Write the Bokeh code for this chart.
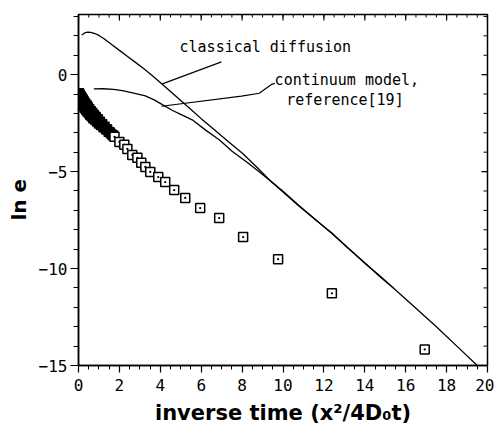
import math
from bokeh.plotting import figure
from bokeh.models import Range1d, FixedTicker, Label, Title
from bokeh.embed import file_html
from bokeh.resources import INLINE

# ---- data ----
classical_x = [0.16, 0.3, 0.45, 0.6, 0.8, 1.0, 1.25, 1.62, 2.0, 2.45, 2.85, 3.23, 3.6, 3.97,
               4.5, 5.0, 5.5, 6.0, 6.5, 7.0, 7.51, 8.0, 8.7, 9.35, 10.0, 10.78, 11.6, 12.39,
               13.2, 14.0, 14.7, 15.41, 16.5, 17.5, 18.5, 19.5]
classical_y = [2.04, 2.15, 2.19, 2.18, 2.12, 2.02, 1.85, 1.55, 1.25, 0.9, 0.58, 0.28, -0.05, -0.38,
               -0.87, -1.34, -1.8, -2.27, -2.72, -3.17, -3.62, -4.04, -4.75, -5.45, -6.05, -6.78,
               -7.5, -8.17, -8.95, -9.73, -10.35, -11.02, -12.05, -13.0, -14.0, -15.0]

continuum_x = [0.75, 1.2, 1.7, 2.15, 2.7, 3.27, 3.7, 4.1, 4.6, 5.0, 5.56, 6.2, 6.88, 7.51, 8.34,
               9.35, 10.0, 10.78, 11.6, 12.39, 13.2, 14.0, 14.7, 15.4]
continuum_y = [-0.74, -0.73, -0.76, -0.83, -0.95, -1.1, -1.3, -1.55, -1.85, -2.05, -2.33, -2.85,
               -3.36, -3.95, -4.6, -5.45, -6.02, -6.75, -7.48, -8.2, -8.97, -9.7, -10.38, -11.0]

dense_x = [0.00, 0.02, 0.03, 0.05, 0.07, 0.09, 0.11, 0.14, 0.16, 0.19, 0.21, 0.24, 0.27, 0.30,
           0.33, 0.36, 0.40, 0.43, 0.46, 0.50, 0.53, 0.57, 0.60, 0.64, 0.68, 0.72, 0.76, 0.80,
           0.85, 0.90, 0.95, 1.00, 1.05, 1.10, 1.16, 1.22, 1.28, 1.34, 1.40, 1.47, 1.54, 1.62, 1.70]
dense_y = [-1.00, -1.20, -0.95, -1.30, -1.05, -1.38, -1.12, -1.45, -1.20, -1.55, -1.28, -1.62,
           -1.38, -1.72, -1.48, -1.80, -1.58, -1.90, -1.68, -1.98, -1.78, -2.08, -1.88, -2.15,
           -1.98, -2.25, -2.08, -2.32, -2.18, -2.42, -2.30, -2.52, -2.42, -2.60, -2.55, -2.72,
           -2.68, -2.82, -2.82, -2.95, -2.98, -3.08, -3.14]

sim_x = [1.76, 2.0, 2.24, 2.39, 2.63, 2.88, 3.07, 3.27, 3.51, 3.9, 4.24, 4.68, 5.22, 5.95,
         6.88, 8.05, 9.76, 12.39, 16.93]
sim_y = [-3.21, -3.47, -3.62, -3.83, -4.14, -4.29, -4.55, -4.76, -5.02, -5.28, -5.54, -5.95,
         -6.36, -6.88, -7.4, -8.38, -9.52, -11.28, -14.17]

x_major = [0, 2, 4, 6, 8, 10, 12, 14, 16, 18, 20]
x_minor = [i * 0.5 for i in range(41)]
y_major = [-15, -10, -5, 0]
y_minor = [-15, -14, -13, -12, -11, -10, -9, -8, -7, -6, -5, -4, -3, -2, -1, 0, 1, 2, 3]

x_title = "inverse time (x²/4D₀t)"
y_title = "ln e"

XMIN, XMAX = 0, 20
YMIN, YMAX = -15, 3.1

MONO = "DejaVu Sans Mono"
SANS = "DejaVu Sans"

p = figure(width=494, height=428, output_backend="svg", toolbar_location=None,
           x_range=Range1d(XMIN, XMAX), y_range=Range1d(YMIN, YMAX),
           min_border_left=76, min_border_right=7, min_border_top=14, min_border_bottom=63,
           x_axis_label=x_title)
p.grid.visible = False
p.outline_line_color = "black"
p.outline_line_width = 1.5
p.background_fill_color = "white"
p.border_fill_color = "white"

xa = p.xaxis[0]
xa.ticker = FixedTicker(ticks=x_major, minor_ticks=x_minor)
xa.major_tick_out = 7
xa.major_tick_in = 0
xa.minor_tick_out = 4
xa.minor_tick_in = 0
xa.major_label_standoff = 6
xa.major_label_text_font = MONO
xa.major_label_text_font_size = "16px"
xa.major_label_text_color = "black"
xa.axis_label_text_font = SANS
xa.axis_label_text_font_style = "bold"
xa.axis_label_text_font_size = "21px"
xa.axis_label_text_color = "black"
xa.axis_label_standoff = 7

ya = p.yaxis[0]
ya.ticker = FixedTicker(ticks=y_major, minor_ticks=y_minor)
ya.major_tick_out = 8
ya.major_tick_in = 0
ya.minor_tick_out = 5
ya.minor_tick_in = 0
ya.major_label_standoff = 3
ya.major_label_text_font = MONO
ya.major_label_text_font_size = "16px"
ya.major_label_text_color = "black"

for ax in (xa, ya):
    ax.axis_line_color = "black"
    ax.axis_line_width = 1.5
    ax.major_tick_line_color = "black"
    ax.minor_tick_line_color = "black"
    ax.major_tick_line_width = 1.2
    ax.minor_tick_line_width = 1.0

# y title as a side title, anchored from the bottom of the frame
p.add_layout(Title(text=y_title, align="left", offset=145, standoff=9,
                   text_font=SANS, text_font_style="bold", text_font_size="20px",
                   text_color="black"), "left")

# inward ticks on the top and right frame edges
p.ray(x=x_major, y=[YMAX] * len(x_major), length=6, length_units="screen",
      angle=-math.pi / 2, line_color="black", line_width=1.2)
p.ray(x=x_minor, y=[YMAX] * len(x_minor), length=3, length_units="screen",
      angle=-math.pi / 2, line_color="black", line_width=1.0)
p.ray(x=[XMAX] * len(y_major), y=y_major, length=6, length_units="screen",
      angle=math.pi, line_color="black", line_width=1.2)
p.ray(x=[XMAX] * len(y_minor), y=y_minor, length=4, length_units="screen",
      angle=math.pi, line_color="black", line_width=1.0)

# curves
p.line(classical_x, classical_y, line_color="black", line_width=1.3)
p.line(continuum_x, continuum_y, line_color="black", line_width=1.3)

# simulation points
p.scatter(dense_x, dense_y, marker="square", size=9, line_color="black",
          fill_color="black", line_width=1.3)
p.scatter(sim_x, sim_y, marker="square_dot", size=9, line_color="black",
          fill_color="white", line_width=1.5)

# pointer lines
p.line([4.1, 6.99], [-0.48, 0.66], line_color="black", line_width=1.2)
p.line([4.06, 7.97, 8.84, 9.45, 9.6], [-1.63, -1.11, -0.96, -0.5, -0.45],
       line_color="black", line_width=1.2)

p.add_layout(Label(x=4.94, y=1.42, text="classical diffusion", text_font=MONO,
                   text_font_size="15px", text_baseline="middle", text_color="black"))
p.add_layout(Label(x=9.59, y=-0.28, text="continuum model,", text_font=MONO,
                   text_font_size="15px", text_baseline="middle", text_color="black"))
p.add_layout(Label(x=10.16, y=-1.32, text="reference[19]", text_font=MONO,
                   text_font_size="15px", text_baseline="middle", text_color="black"))

open("out.html", "w").write(file_html(p, INLINE))
